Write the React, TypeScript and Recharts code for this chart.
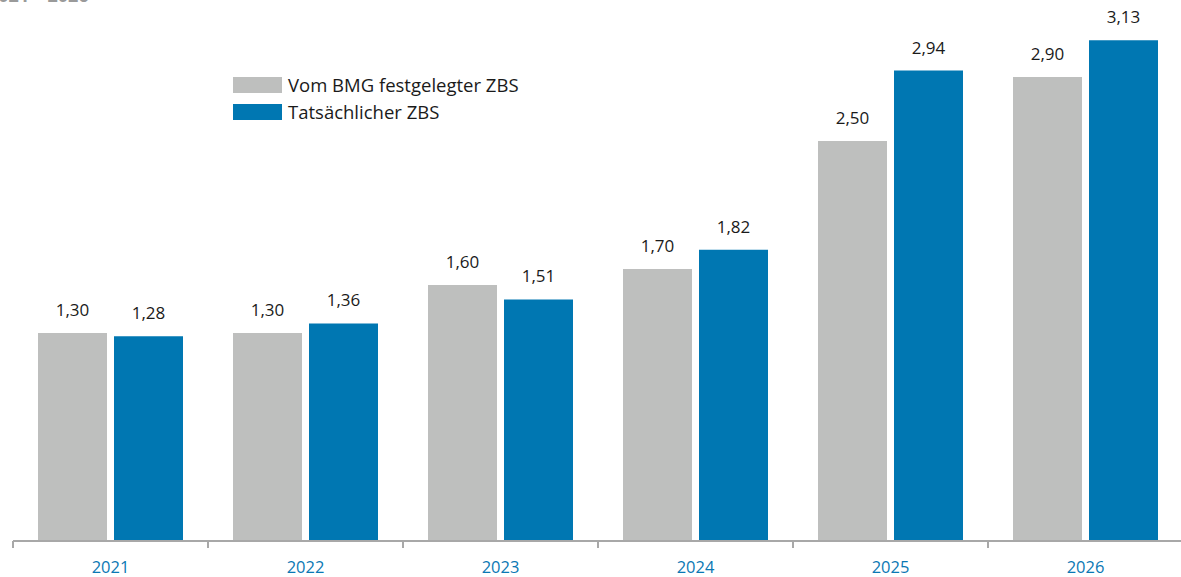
import React from "react";
import { BarChart, Bar, XAxis, YAxis, LabelList } from "recharts";

const years = ["2021", "2022", "2023", "2024", "2025", "2026"];
const bmgValues = [1.3, 1.3, 1.6, 1.7, 2.5, 2.9];
const actualValues = [1.28, 1.36, 1.51, 1.82, 2.94, 3.13];
const seriesNames = ["Vom BMG festgelegter ZBS", "Tatsächlicher ZBS"];
const seriesColors = ["#bebfbe", "#0077b2"];

const data = years.map((y, i) => ({ year: y, bmg: bmgValues[i], actual: actualValues[i] }));

const FONT = "'Open Sans', sans-serif";

const fmt = (v: any) => Number(v).toFixed(2).replace(".", ",");

const Tick = (props: any) => {
  const { x, y, payload, index, visibleTicksCount } = props;
  const band = 195;
  return (
    <g>
      <line x1={x - band / 2} x2={x - band / 2} y1={y - 8} y2={y - 1} stroke="#a8a8a8" strokeWidth={2} />
      {index === (visibleTicksCount ?? 6) - 1 && (
        <line x1={x + band / 2} x2={x + band / 2} y1={y - 8} y2={y - 1} stroke="#a8a8a8" strokeWidth={2} />
      )}
      <text x={x} y={y + 24} textAnchor="middle" fill="#0a78b4" fontSize={16.5} fontFamily={FONT}>
        {payload.value}
      </text>
    </g>
  );
};

export default function App() {
  return (
    <div style={{ position: "absolute", left: 0, top: 0, width: 1181, height: 577, overflow: "hidden", background: "#fff" }}>
      <div style={{ position: "absolute", left: -12, top: -15, lineHeight: "20px", fontFamily: FONT, fontWeight: 700, fontSize: 18, color: "#9a9a9a" }}>
        2021 – 2026
      </div>
      <BarChart
        width={1195}
        height={577}
        data={data}
        margin={{ top: 29, right: 12, left: 13, bottom: 0 }}
        barSize={69}
        barGap={7}
      >
        <XAxis
          dataKey="year"
          height={36}
          axisLine={{ stroke: "#a8a8a8", strokeWidth: 2 }}
          tickLine={false}
          tick={<Tick />}
          interval={0}
        />
        <YAxis hide type="number" domain={[0, 3.2]} allowDataOverflow />
        <Bar dataKey="bmg" fill={seriesColors[0]} isAnimationActive={false}>
          <LabelList dataKey="bmg" position="top" offset={17} formatter={fmt} fill="#1a1a1a" fontSize={17} fontFamily={FONT} />
        </Bar>
        <Bar dataKey="actual" fill={seriesColors[1]} isAnimationActive={false}>
          <LabelList dataKey="actual" position="top" offset={17} formatter={fmt} fill="#1a1a1a" fontSize={17} fontFamily={FONT} />
        </Bar>
      </BarChart>
      <div style={{ position: "absolute", left: 233, top: 71, fontFamily: FONT, fontSize: 18.5, color: "#1a1a1a" }}>
        {seriesNames.map((n, i) => (
          <div key={n} style={{ display: "flex", alignItems: "center", height: 27 }}>
            <div style={{ width: 49, height: 16, background: seriesColors[i], marginRight: 6 }} />
            <span style={{ lineHeight: "16px", whiteSpace: "nowrap" }}>{n}</span>
          </div>
        ))}
      </div>
    </div>
  );
}
